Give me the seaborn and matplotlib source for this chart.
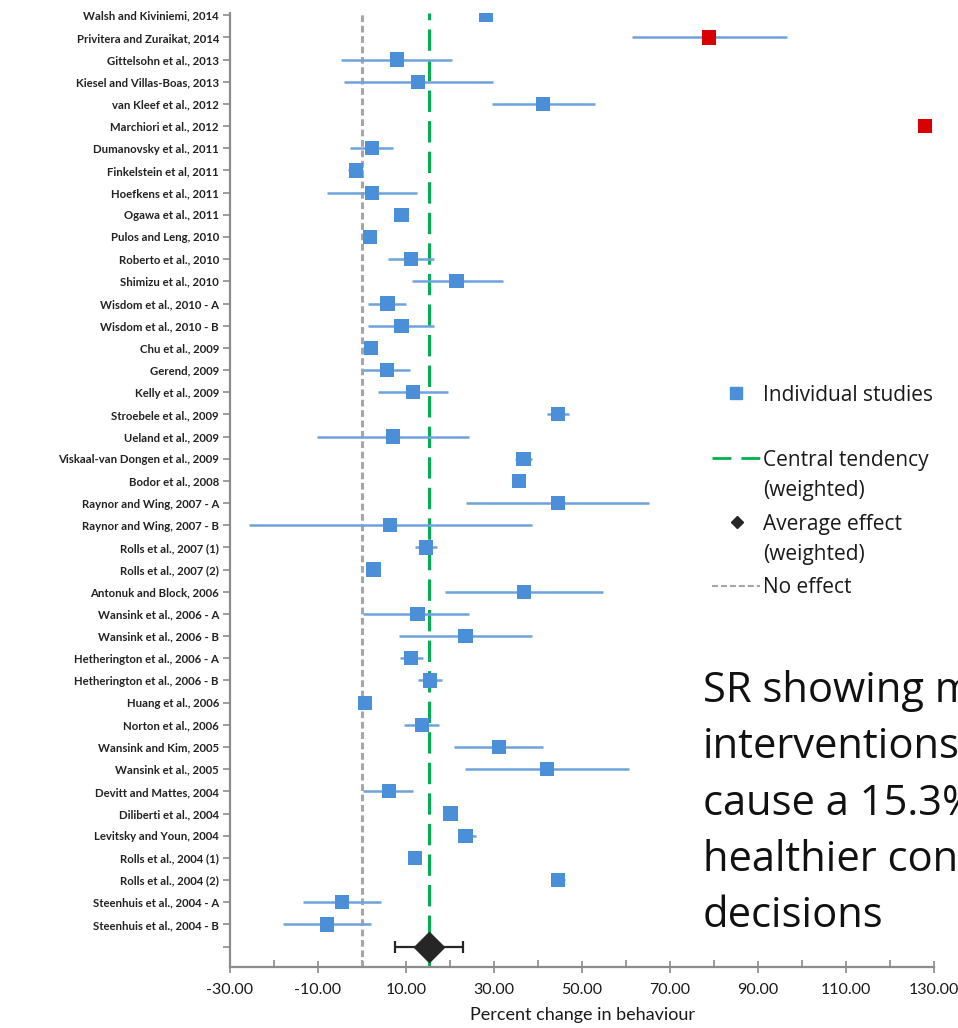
import numpy as np
import pandas as pd
import matplotlib
matplotlib.use("Agg")
import matplotlib.pyplot as plt
from matplotlib.lines import Line2D
import seaborn as sns

studies = [
    "Walsh and Kiviniemi, 2014", "Privitera and Zuraikat, 2014", "Gittelsohn et al., 2013",
    "Kiesel and Villas-Boas, 2013", "van Kleef et al., 2012", "Marchiori et al., 2012",
    "Dumanovsky et al., 2011", "Finkelstein et al, 2011", "Hoefkens et al., 2011",
    "Ogawa et al., 2011", "Pulos and Leng, 2010", "Roberto et al., 2010",
    "Shimizu et al., 2010", "Wisdom et al., 2010 - A", "Wisdom et al., 2010 - B",
    "Chu et al., 2009", "Gerend, 2009", "Kelly et al., 2009", "Stroebele et al., 2009",
    "Ueland et al., 2009", "Viskaal-van Dongen et al., 2009", "Bodor et al., 2008",
    "Raynor and Wing, 2007 - A", "Raynor and Wing, 2007 - B", "Rolls et al., 2007 (1)",
    "Rolls et al., 2007 (2)", "Antonuk and Block, 2006", "Wansink et al., 2006 - A",
    "Wansink et al., 2006 - B", "Hetherington et al., 2006 - A", "Hetherington et al., 2006 - B",
    "Huang et al., 2006", "Norton et al., 2006", "Wansink and Kim, 2005",
    "Wansink et al., 2005", "Devitt and Mattes, 2004", "Diliberti et al., 2004",
    "Levitsky and Youn, 2004", "Rolls et al., 2004 (1)", "Rolls et al., 2004 (2)",
    "Steenhuis et al., 2004 - A", "Steenhuis et al., 2004 - B",
]
effect = [28.1, 78.9, 7.9, 12.7, 41.2, 128.0, 2.2, -1.4, 2.2, 9.0, 1.8, 11.2, 21.5, 5.8, 9.0,
          2.0, 5.6, 11.6, 44.6, 7.1, 36.7, 35.6, 44.5, 6.4, 14.5, 2.6, 36.8, 12.6, 23.5,
          11.1, 15.4, 0.7, 13.6, 31.1, 42.0, 6.1, 20.1, 23.5, 12.0, 44.6, -4.5, -8.0]
ci_low = [28.1, 61.3, -4.8, -4.2, 29.6, 128.0, -2.7, -3.1, -8.0, 9.0, 1.8, 6.0, 11.3, 1.4, 1.4,
          0.2, 0.2, 3.7, 42.0, -10.2, 34.8, 34.2, 23.6, -25.6, 12.0, 1.2, 18.9, 0.3, 8.3,
          8.6, 12.8, 0.7, 9.6, 21.0, 23.4, 0.2, 20.1, 21.9, 12.0, 43.1, -13.3, -17.9]
ci_high = [28.1, 96.5, 20.4, 29.8, 53.0, 128.0, 7.1, 0.3, 12.6, 9.0, 1.8, 16.4, 32.0, 10.0, 16.4,
           3.5, 10.9, 19.5, 47.1, 24.3, 38.7, 37.0, 65.3, 38.6, 17.0, 4.1, 54.8, 24.3, 38.6,
           13.8, 18.1, 0.7, 17.6, 41.2, 60.7, 11.5, 20.1, 25.8, 12.0, 46.1, 4.3, 2.0]
outlier = ["Privitera and Zuraikat, 2014", "Marchiori et al., 2012"]

average_effect = 15.3
average_low = 7.5
average_high = 22.9
no_effect = 0.0

x_ticks = [-30, -10, 10, 30, 50, 70, 90, 110, 130]
x_label = "Percent change in behaviour"
note_lines = ["SR showing menu", "interventions", "cause a 15.3%",
              "healthier consumer", "decisions"]

sns.set_theme(style="white")
plt.rcParams["font.family"] = ["Lato", "DejaVu Sans"]

df = pd.DataFrame({"study": studies, "effect": effect, "lo": ci_low, "hi": ci_high})
df["row"] = np.arange(len(df))
df["kind"] = np.where(df["study"].isin(outlier), "outlier", "study")
avg_row = len(df)

fig = plt.figure(figsize=(9.58, 10.28), dpi=100)
W, H = 958, 1028
ax = fig.add_axes([230 / W, 1 - 967 / H, 704 / W, (967 - 13) / H])

blue = "#4A8FD8"
bar_blue = "#6FA2DA"
red = "#D90000"
green = "#00B050"
grey = "#A6A6A6"

# error bars
ax.errorbar(df["effect"], df["row"],
            xerr=[df["effect"] - df["lo"], df["hi"] - df["effect"]],
            fmt="none", ecolor=bar_blue, elinewidth=1.8, capsize=0, zorder=2)

# reference lines
ax.axvline(no_effect, color=grey, lw=2.2, ls=(0, (2.2, 1.2)), zorder=1)
ax.axvline(average_effect, color=green, lw=2.2, ls=(0, (7, 3)), zorder=1)

# study markers
sns.scatterplot(data=df, x="effect", y="row", hue="kind",
                palette={"study": blue, "outlier": red}, marker="s",
                s=105, linewidth=0, legend=False, ax=ax, zorder=3)

# average effect
ax.errorbar([average_effect], [avg_row],
            xerr=[[average_effect - average_low], [average_high - average_effect]],
            fmt="D", color="#262626", ecolor="#262626", markersize=15,
            elinewidth=1.6, capsize=4.5, capthick=1.6, zorder=4)

ax.set_xlim(-30, 130)
ax.set_ylim(avg_row + 0.92, -0.1)
ax.set_xticks(x_ticks)
ax.set_xticklabels([f"{v:.2f}" for v in x_ticks], fontsize=11.5, color="#1a1a1a")
ax.set_xticks(np.arange(-20, 130, 20), minor=True)
ax.set_yticks(list(df["row"]) + [avg_row])
ax.set_yticklabels(studies + [""], fontsize=8.2, fontweight="bold", color="#222222")
ax.set_xlabel(x_label, fontsize=13, color="#1a1a1a", labelpad=7)
ax.set_ylabel("")

for s in ["top", "right"]:
    ax.spines[s].set_visible(False)
for s in ["left", "bottom"]:
    ax.spines[s].set_color("#8C8C8C")
    ax.spines[s].set_linewidth(1.6)

ax.tick_params(axis="y", which="major", direction="out", length=5, width=1.2,
               color="#8C8C8C", left=True, pad=3)
ax.tick_params(axis="x", which="major", direction="inout", length=9, width=1.2,
               color="#8C8C8C", bottom=True, pad=7)
ax.tick_params(axis="x", which="minor", direction="in", length=5, width=1.2,
               color="#8C8C8C", bottom=True)

# legend (manual, figure coordinates)
def fx(px):
    return px / W

def fy(py):
    return 1 - py / H

leg_font = ["Open Sans", "DejaVu Sans"]
leg_fs = 15
txt_col = "#1a1a1a"
fig.add_artist(Line2D([fx(736)], [fy(393)], marker="s", color=blue, markersize=9,
                      linestyle="none"))
fig.add_artist(Line2D([fx(712), fx(760)], [fy(458), fy(458)], color=green, lw=2,
                      ls=(0, (6.8, 3.6))))
fig.add_artist(Line2D([fx(737)], [fy(522)], marker="D", color="#262626", markersize=6,
                      linestyle="none"))
fig.add_artist(Line2D([fx(712), fx(760)], [fy(586), fy(586)], color=grey, lw=1.5,
                      ls=(0, (2.9, 1.4))))
for ypx, label in [(393, "Individual studies"), (458, "Central tendency"),
                   (488, "(weighted)"), (522, "Average effect"),
                   (552, "(weighted)"), (585, "No effect")]:
    fig.text(fx(763), fy(ypx), label, fontsize=leg_fs, va="center_baseline",
             color=txt_col, family=leg_font)

# annotation text (runs off the right edge, as in the reference)
for i, line in enumerate(note_lines):
    fig.text(fx(703), fy(702 + i * 56.3), line, fontsize=30, va="baseline",
             ha="left", color="#111111", family=leg_font)

fig.savefig("out.png", dpi=100)
